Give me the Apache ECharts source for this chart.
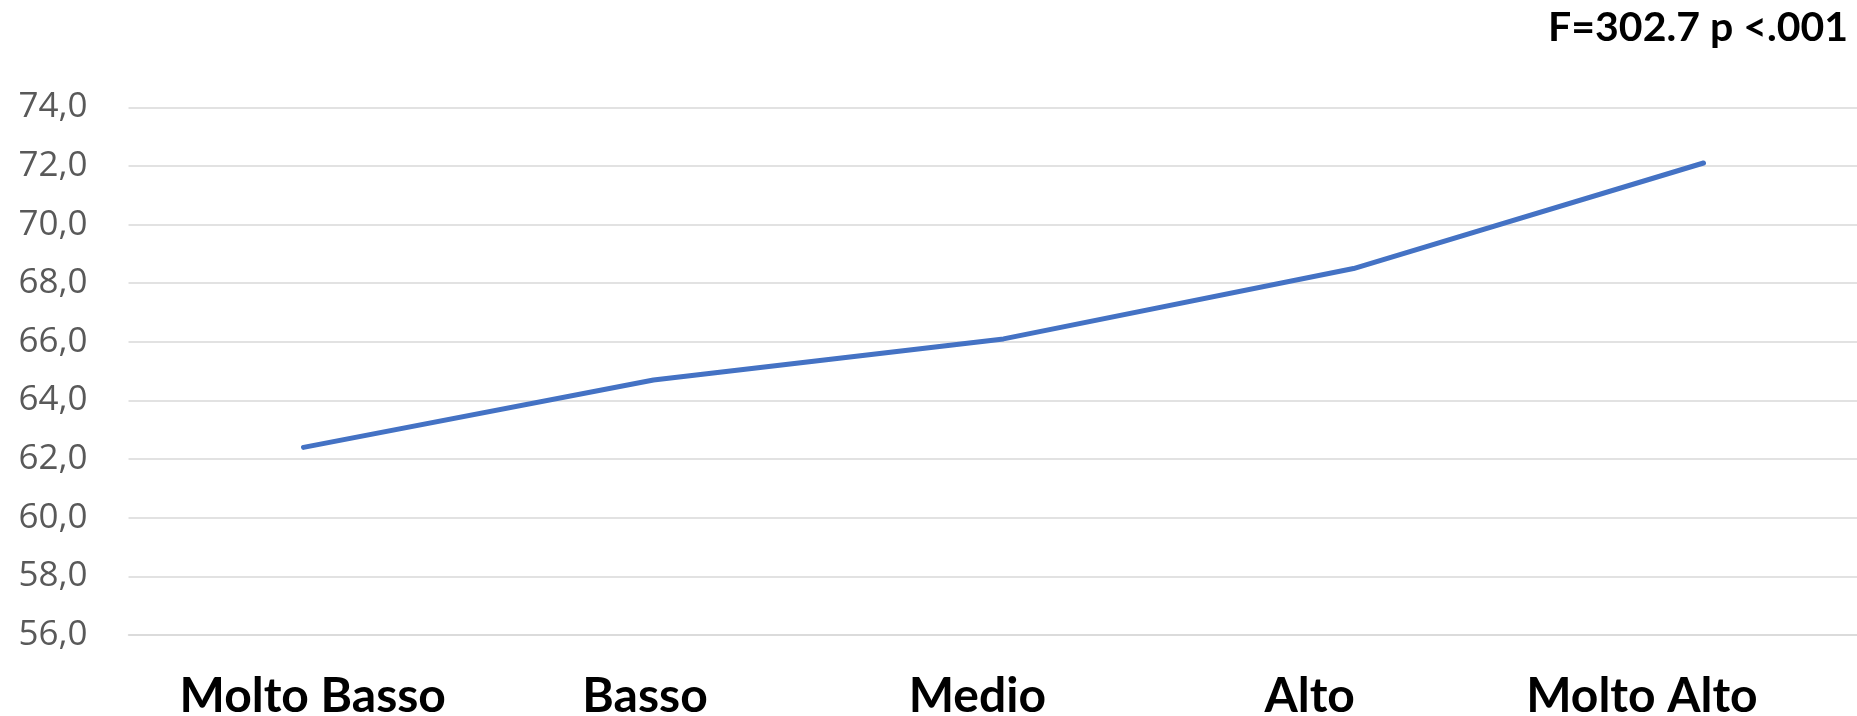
<!DOCTYPE html>
<html>
<head>
<meta charset="utf-8">
<title>Punteggio medio per livello</title>
<script src="https://cdn.jsdelivr.net/npm/echarts@6/dist/echarts.min.js"></script>
<style>
  html, body { margin: 0; padding: 0; background: #ffffff; overflow: hidden; }
  #chart { width: 1857px; height: 716px; }
</style>
</head>
<body>
<div id="chart"></div>
<script>
// Livelli (asse delle categorie) e valori medi
const categories = ['Molto Basso', 'Basso', 'Medio', 'Alto', 'Molto Alto'];
const meanValues = [62.4, 64.7, 66.1, 68.5, 72.1];

// Scala dell'asse Y
const yMin = 56;
const yMax = 74;
const yStep = 2;

// Statistica del test riportata in alto a destra
const statText = 'F=302.7 p <.001';

const chart = echarts.init(document.getElementById('chart'), null, { renderer: 'canvas' });

chart.setOption({
  animation: false,
  backgroundColor: '#ffffff',
  grid: [
    {
      // area del grafico: prosegue un poco oltre il bordo destro
      left: 128.5,
      width: 1750,
      top: 107.3,
      bottom: 81,
      containLabel: false,
      outerBoundsMode: 'none'
    },
    {
      // fascia delle etichette dei livelli, un po' più stretta
      left: 146.6,
      width: 1661.5,
      top: 107.3,
      bottom: 81,
      containLabel: false,
      outerBoundsMode: 'none'
    }
  ],
  graphic: [{
    type: 'text',
    right: 9,
    top: 7,
    style: {
      text: statText,
      fill: '#000000',
      font: 'bold 41px Lato, "Open Sans", sans-serif'
    }
  }],
  xAxis: [
    {
      type: 'category',
      gridIndex: 0,
      data: categories,
      boundaryGap: true,
      axisLine: { show: true, lineStyle: { color: '#d9d9d9', width: 1.5 } },
      axisTick: { show: false },
      axisLabel: { show: false },
      splitLine: { show: false }
    },
    {
      type: 'category',
      gridIndex: 1,
      data: categories,
      boundaryGap: true,
      axisLine: { show: false },
      axisTick: { show: false },
      axisLabel: {
        interval: 0,
        margin: 38,
        color: '#000000',
        fontFamily: 'Lato, "Open Sans", sans-serif',
        fontWeight: 'bold',
        fontSize: 48
      },
      splitLine: { show: false }
    }
  ],
  yAxis: [
    {
      type: 'value',
      gridIndex: 0,
      min: yMin,
      max: yMax,
      interval: yStep,
      axisLine: { show: false },
      axisTick: { show: false },
      axisLabel: {
        margin: 41,
        color: '#595959',
        fontFamily: '"Open Sans", sans-serif',
        fontSize: 35,
        formatter: v => v.toFixed(1).replace('.', ',')
      },
      splitLine: { show: true, lineStyle: { color: '#d9d9d9', width: 1.5 } }
    },
    {
      type: 'value',
      gridIndex: 1,
      min: yMin,
      max: yMax,
      show: false
    }
  ],
  series: [{
    type: 'line',
    xAxisIndex: 0,
    yAxisIndex: 0,
    data: meanValues,
    symbol: 'none',
    smooth: false,
    lineStyle: { color: '#4472C4', width: 5, cap: 'round', join: 'round' }
  }]
});
</script>
</body>
</html>
